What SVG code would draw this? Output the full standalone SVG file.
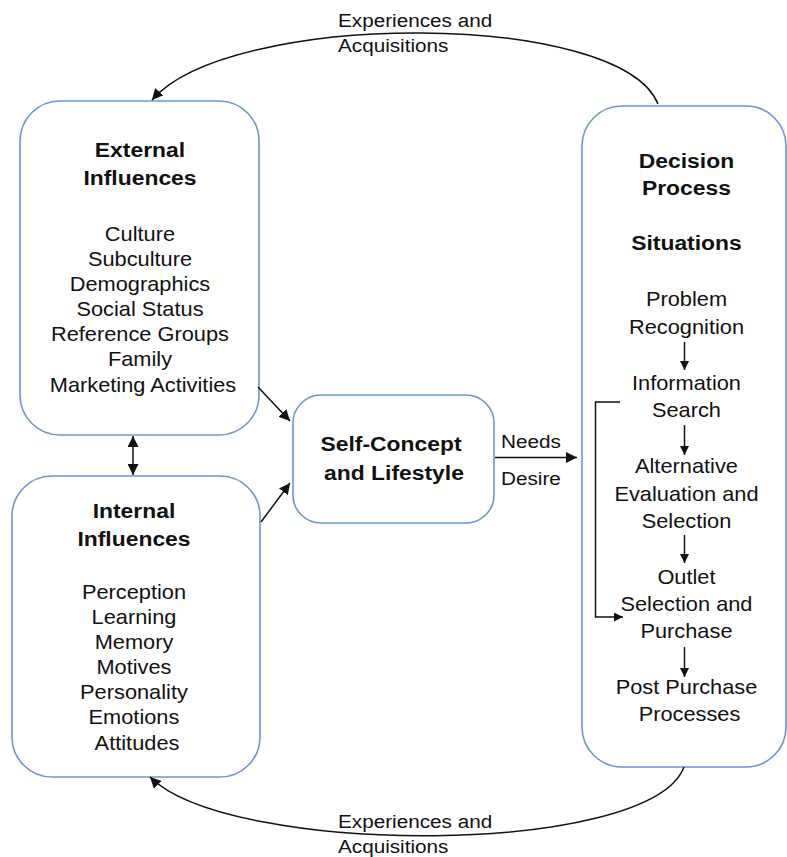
<svg xmlns="http://www.w3.org/2000/svg" width="787" height="857" viewBox="0 0 787 857">
  <style>
    .box { fill: #ffffff; stroke: #6f93d5; stroke-width: 1.6; }
    .t { font-family: "Liberation Sans", Arial, Helvetica, sans-serif; font-size: 20px; fill: #111111; text-anchor: middle; }
    .h { font-weight: bold; font-size: 21px; }
    .lbl { font-family: "Liberation Sans", Arial, Helvetica, sans-serif; font-size: 19px; fill: #111111; }
    .ln { fill: none; stroke: #111111; stroke-width: 1.5; }
  </style>
  <defs>
    <marker id="ah" viewBox="0 0 10 10" refX="10" refY="5" markerWidth="9" markerHeight="9" markerUnits="userSpaceOnUse" orient="auto-start-reverse">
      <path d="M0,0 L10,5 L0,10 z" fill="#111111"/>
    </marker>
    <marker id="ahs" viewBox="0 0 10 10" refX="10" refY="5" markerWidth="11" markerHeight="11" markerUnits="userSpaceOnUse" orient="auto-start-reverse">
      <path d="M0,0 L10,5 L0,10 z" fill="#111111"/>
    </marker>
  </defs>

  <!-- External influences -->
  <g id="external">
    <rect class="box" x="20" y="101" width="239" height="334" rx="40" ry="40"/>
    <text class="t" transform="translate(143,0) scale(1.09,1)">
      <tspan class="h" x="0" y="157">External</tspan>
      <tspan class="h" x="0" y="185">Influences</tspan>
      <tspan x="0" y="241">Culture</tspan>
      <tspan x="0" y="266">Subculture</tspan>
      <tspan x="0" y="291">Demographics</tspan>
      <tspan x="0" y="316">Social Status</tspan>
      <tspan x="0" y="341">Reference Groups</tspan>
      <tspan x="0" y="366.5">Family</tspan>
      <tspan x="0" y="392">Marketing Activities</tspan>
    </text>
  </g>

  <!-- Internal influences -->
  <g id="internal">
    <rect class="box" x="12" y="476" width="248" height="301" rx="40" ry="40"/>
    <text class="t" transform="translate(137,0) scale(1.09,1)">
      <tspan class="h" x="0" y="518">Internal</tspan>
      <tspan class="h" x="0" y="546">Influences</tspan>
      <tspan x="0" y="599">Perception</tspan>
      <tspan x="0" y="624">Learning</tspan>
      <tspan x="0" y="649">Memory</tspan>
      <tspan x="0" y="674">Motives</tspan>
      <tspan x="0" y="699">Personality</tspan>
      <tspan x="0" y="724">Emotions</tspan>
      <tspan x="0" y="750">Attitudes</tspan>
    </text>
  </g>

  <!-- Self-concept -->
  <g id="self-concept">
    <rect class="box" x="293" y="395" width="201" height="128" rx="28" ry="28"/>
    <text class="t" transform="translate(394,0) scale(1.09,1)">
      <tspan class="h" x="0" y="451.5">Self-Concept</tspan>
      <tspan class="h" x="0" y="480">and Lifestyle</tspan>
    </text>
  </g>

  <!-- Decision process -->
  <g id="decision">
    <rect class="box" x="582" y="106" width="204" height="661" rx="40" ry="40"/>
    <text class="t" transform="translate(689.5,0) scale(1.09,1)">
      <tspan class="h" x="0" y="168">Decision</tspan>
      <tspan class="h" x="0" y="195">Process</tspan>
      <tspan class="h" x="0" y="250">Situations</tspan>
      <tspan x="0" y="306">Problem</tspan>
      <tspan x="0" y="334">Recognition</tspan>
      <tspan x="0" y="390">Information</tspan>
      <tspan x="0" y="417">Search</tspan>
      <tspan x="0" y="473">Alternative</tspan>
      <tspan x="0" y="501">Evaluation and</tspan>
      <tspan x="0" y="528">Selection</tspan>
      <tspan x="0" y="584">Outlet</tspan>
      <tspan x="0" y="611.5">Selection and</tspan>
      <tspan x="0" y="638.5">Purchase</tspan>
      <tspan x="0" y="694">Post Purchase</tspan>
      <tspan x="0" y="721.5">Processes</tspan>
    </text>
  </g>

  <!-- Connectors -->
  <g id="connectors">
    <!-- feedback loops -->
    <path class="ln" d="M658,104 C620,10 230,10 152,100" marker-end="url(#ahs)"/>
    <path class="ln" d="M684,767 C650,857 230,857 150,777" marker-end="url(#ahs)"/>
    <!-- external <-> internal -->
    <path class="ln" d="M133,436 L133,475" marker-start="url(#ahs)" marker-end="url(#ahs)"/>
    <!-- influences to self-concept -->
    <path class="ln" d="M258,387 L290,421" marker-end="url(#ahs)"/>
    <path class="ln" d="M261,522 L290,483" marker-end="url(#ahs)"/>
    <!-- needs / desire -->
    <path class="ln" d="M495,457.5 L577,457.5" marker-end="url(#ahs)"/>
    <!-- decision steps -->
    <path class="ln" d="M684.5,342 L684.5,370" marker-end="url(#ah)"/>
    <path class="ln" d="M684.5,425 L684.5,455" marker-end="url(#ah)"/>
    <path class="ln" d="M684.5,535 L684.5,563" marker-end="url(#ah)"/>
    <path class="ln" d="M684.5,647 L684.5,677" marker-end="url(#ah)"/>
    <!-- search feeds purchase directly -->
    <path class="ln" d="M620,402 L595.5,402 L595.5,617 L623,617" marker-end="url(#ah)"/>
  </g>

  <!-- connector labels -->
  <g id="labels">
    <text class="lbl" transform="translate(338,0) scale(1.09,1)"><tspan x="0" y="27">Experiences and</tspan><tspan x="0" y="52">Acquisitions</tspan></text>
    <text class="lbl" transform="translate(338,0) scale(1.09,1)"><tspan x="0" y="828">Experiences and</tspan><tspan x="0" y="853">Acquisitions</tspan></text>
    <text class="lbl" transform="translate(501,0) scale(1.09,1)"><tspan x="0" y="448">Needs</tspan><tspan x="0" y="485">Desire</tspan></text>
  </g>
</svg>
